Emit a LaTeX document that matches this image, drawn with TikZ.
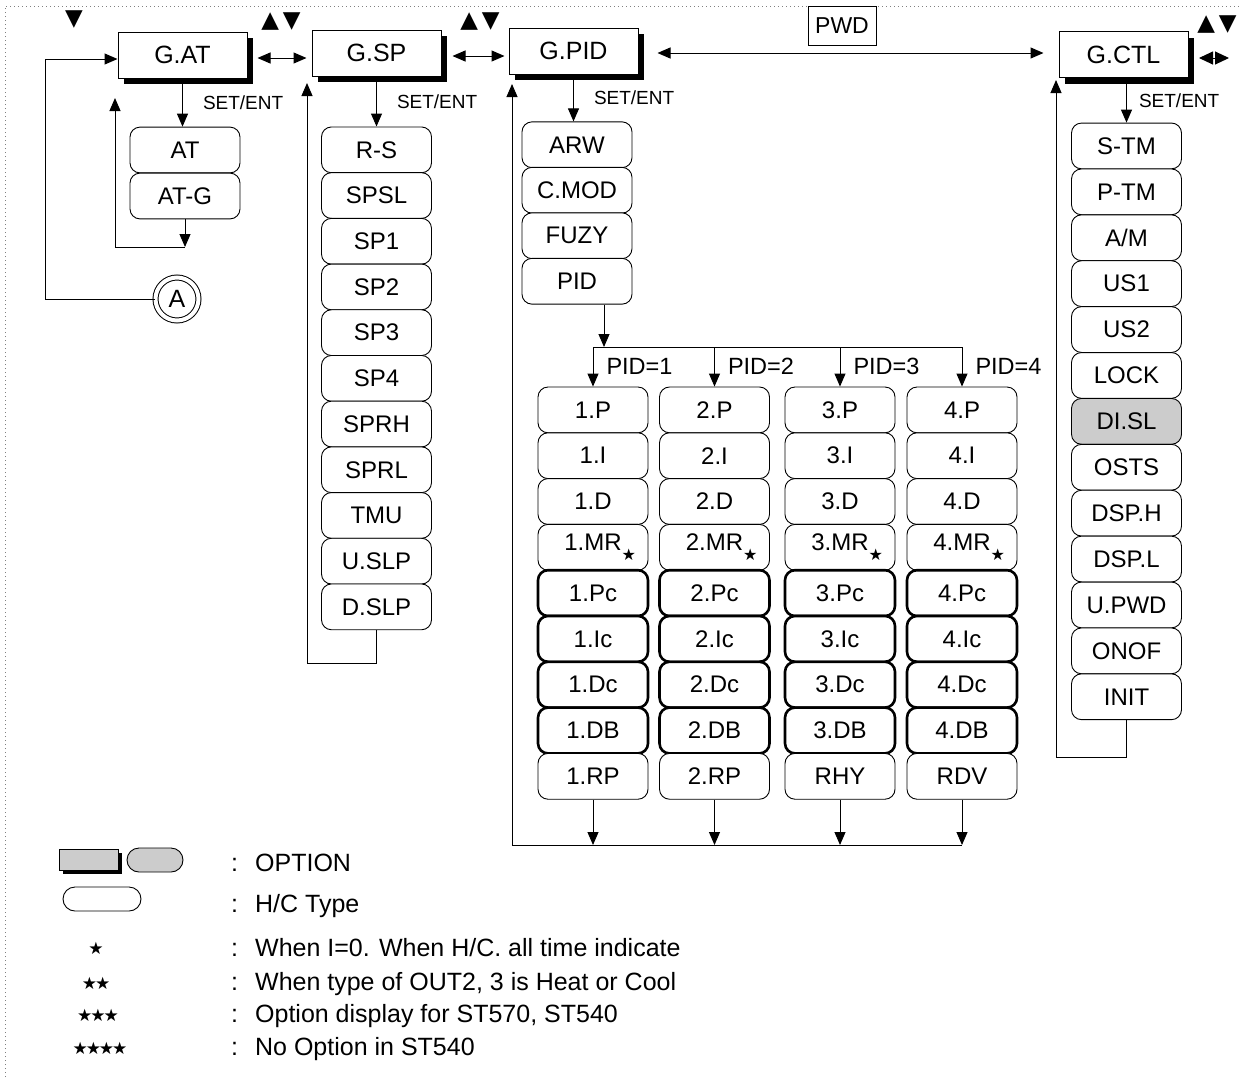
\documentclass[tikz,border=0pt]{standalone}
\usepackage{fontspec}
\setmainfont{Liberation Sans}
\newfontfamily\symfont{DejaVu Sans}
\usetikzlibrary{arrows.meta,shadows}

\newcommand\mrstar{\rlap{\raisebox{-10pt}{\symfont\fontsize{16}{16}\selectfont ★}}}

\begin{document}
\begin{tikzpicture}[x=1pt,y=-1pt,
	grp/.style={draw,line width=1pt,fill=white,minimum width=129pt,minimum height=46pt,inner sep=0pt,
		font=\fontsize{25}{30}\selectfont,
		drop shadow={shadow xshift=6pt,shadow yshift=-6pt,fill=black,opacity=1}},
	itm/.style={draw,line width=0.9pt,rounded corners=10pt,fill=white,minimum width=110pt,
		minimum height=45.8pt,inner sep=0pt,font=\fontsize{24}{28}\selectfont},
	hcitm/.style={itm,line width=2.6pt},
	optitm/.style={itm,fill=gray!40},
	arr/.style={line width=1pt,-{Triangle[length=13pt,width=11pt]}},
	darr/.style={line width=1pt,{Triangle[length=13pt,width=11pt]}-{Triangle[length=13pt,width=11pt]}},
	setent/.style={anchor=west,xshift=20pt,inner sep=0pt,font=\fontsize{19}{22}\selectfont},
	pidlbl/.style={anchor=west,inner sep=0pt,font=\fontsize{23.5}{28}\selectfont},
	key/.style={inner sep=0pt,font=\symfont\fontsize{23}{23}\selectfont},
	stars/.style={inner sep=0pt,font=\symfont\fontsize{17}{17}\selectfont},
	legtxt/.style={anchor=west,inner sep=0pt,font=\fontsize{25}{30}\selectfont}]
	\useasboundingbox (0,0) rectangle (1242,1077);
	% dotted frame (top and left only)
	\draw[gray,line width=0.8pt,dash pattern=on 1pt off 3pt] (5,1077) -- (5,6) -- (1242,6);
	
	% groups
	\node[grp] (gat) at (182.5,55) {G.AT};
	\node[grp] (gsp) at (376.5,53) {G.SP};
	\node[grp] (gpid) at (573.5,51) {G.PID};
	\node[grp] (gctl) at (1123.5,54.5) {G.CTL};
	\node[draw,line width=1pt,minimum width=68pt,minimum height=39pt,inner sep=0pt,
		font=\fontsize{23}{28}\selectfont] (pwd) at (842,25.5) {PWD};
	
	% keys
	\node[key] (k1) at (74,20) {▼};
	\node[key] (k2) at (281,22) {▲\hspace{4pt}▼};
	\node[key] (k3) at (480,22) {▲\hspace{4pt}▼};
	\node[key] (k4) at (1217,25) {▲\hspace{4pt}▼};
	\coordinate (lr1) at (1199,58);
	\coordinate (lr2) at (1229,58);
	\draw[line width=1pt,{Triangle[length=14pt,width=13pt]}-{Triangle[length=14pt,width=13pt]}] (lr1) -- (lr2);
	
	% links between groups
	\draw[darr] ([xshift=10pt,yshift=-3pt]gat.east) -- ([xshift=-5pt,yshift=-3pt]gat.east -| gsp.west);
	\draw[darr] ([xshift=11pt,yshift=-3pt]gsp.east) -- ([xshift=-4pt,yshift=-3pt]gsp.east -| gpid.west);
	\draw[darr] ([xshift=19pt,yshift=-2pt]gpid.east) -- ([xshift=-15pt,yshift=-2pt]gpid.east -| gctl.west);
	
	% G.AT
	\node[itm] (at1) at (185,150) {AT};
	\node[itm] (at2) at (185,196) {AT-G};
	\draw[arr] (gat.south) -- node[setent] (se1) {SET/ENT} (gat.south |- at1.north);
	\coordinate (atret) at (115,247);
	\coordinate (attop) at (115,98);
	\draw[arr] (at2.south) -- (at2.south |- atret);
	\draw[arr] (at2.south |- atret) -- (atret) -- (attop);
	\node[circle,draw,double,line width=1pt,double distance=4pt,minimum size=43pt,inner sep=0pt,
		font=\fontsize{25}{30}\selectfont] (ca) at (177,299) {A};
	\coordinate (aleft) at (45,299);
	\draw[arr] (ca.west) -- (aleft) |- ([xshift=0pt,yshift=-4pt]gat.west);
	
	% G.SP
	\foreach \lbl [count=\i] in {R-S,SPSL,SP1,SP2,SP3,SP4,SPRH,SPRL,TMU,U.SLP,D.SLP}
		\node[itm] (sp\i) at (376.5,{104.15+45.7*\i}) {\lbl};
	\draw[arr] (gsp.south) -- node[setent] (se2) {SET/ENT} (gsp.south |- sp1.north);
	\coordinate (spret) at (307,663);
	\coordinate (sptop) at (307,83);
	\draw[arr] (sp11.south) |- (spret) -- (sptop);
	
	% G.PID
	\foreach \lbl [count=\i] in {ARW,C.MOD,FUZY,PID}
		\node[itm] (pd\i) at (577,{99.25+45.5*\i}) {\lbl};
	\draw[arr] (gpid.south) -- node[setent] (se3) {SET/ENT} (gpid.south |- pd1.north);
	\foreach \c/\cx/\last in {1/593/1.RP,2/714.5/2.RP,3/840/RHY,4/962/RDV}{
		\foreach \r/\nm in {1/P,2/I,3/D}
			\node[itm] (p\c r\r) at (\cx,{364.1+45.8*\r}) {\c.\nm};
		\node[itm] (p\c r4) at (\cx,{364.1+45.8*4}) {\c.MR\mrstar};
		\foreach \r/\nm in {5/Pc,6/Ic,7/Dc,8/DB}
			\node[hcitm] (p\c r\r) at (\cx,{364.1+45.8*\r}) {\c.\nm};
		\node[itm] (p\c r9) at (\cx,{364.1+45.8*9}) {\last};
	}
	\coordinate (split) at (604,347);
	\draw[arr] ([xshift=27pt]pd4.south) -- (split);
	\draw[line width=1pt] (p1r1.north |- split) -- (p4r1.north |- split);
	\foreach \c in {1,2,3,4}{
		\draw[arr] (p\c r1.north |- split) -- node[pidlbl,xshift=13pt] (pl\c) {PID=\c} (p\c r1.north);
	}
	\coordinate (pidret) at (512,845);
	\coordinate (pidtop) at (512,84);
	\foreach \c in {1,2,3,4}
		\draw[arr] (p\c r9.south) -- (p\c r9.south |- pidret);
	\draw[line width=1pt] (pidret) -- (p4r9.south |- pidret);
	\draw[arr] (pidret) -- (pidtop);
	
	% G.CTL
	\foreach \lbl/\st [count=\i] in {S-TM/itm,P-TM/itm,{A/M}/itm,US1/itm,US2/itm,LOCK/itm,DI.SL/optitm,
		OSTS/itm,DSP.H/itm,DSP.L/itm,U.PWD/itm,ONOF/itm,INIT/itm}
		\node[\st] (c\i) at (1126.5,{100.05+45.9*\i}) {\lbl};
	\draw[arr] ([xshift=3pt]gctl.south) -- node[setent,xshift=-8pt] (se4) {SET/ENT} ([xshift=3pt]gctl.south |- c1.north);
	\coordinate (ctlret) at (1056,757);
	\coordinate (ctltop) at (1056,80);
	\draw[arr] (c13.south) |- (ctlret) -- (ctltop);
	
	% legend
	\node[draw,fill=gray!40,line width=1pt,minimum width=59pt,minimum height=21pt,inner sep=0pt,
		drop shadow={shadow xshift=4pt,shadow yshift=-4pt,fill=black,opacity=1}] (lg1) at (88.5,859.5) {};
	\node[optitm,minimum width=56pt,minimum height=24pt,rounded corners=12pt] (lg2) at (155,860) {};
	\node[itm,minimum width=78pt,minimum height=24pt,rounded corners=12pt] (lg3) at (102,899) {};
	\node[legtxt] (lt1) at (231,863) {:\hspace{17pt}OPTION};
	\node[legtxt] (lt2) at (231,906) {:\hspace{17pt}H/C Type};
	\node[stars] (st1) at (96,948) {★};
	\node[stars] (st2) at (96,983) {★\kern-2pt★};
	\node[stars] (st3) at (98,1015) {★\kern-2pt★\kern-2pt★};
	\node[stars] (st4) at (100,1048) {★\kern-2pt★\kern-2pt★\kern-2pt★};
	\node[legtxt] (lt3) at (231,948) {:\hspace{17pt}When I=0. When H/C. all time indicate};
	\node[legtxt] (lt4) at (231,984) {:\hspace{17pt}When type of OUT2, 3 is Heat or Cool};
	\node[legtxt] (lt5) at (231,1016) {:\hspace{17pt}Option display for ST570, ST540};
	\node[legtxt] (lt6) at (231,1049) {:\hspace{17pt}No Option in ST540};
\end{tikzpicture}
\end{document}
